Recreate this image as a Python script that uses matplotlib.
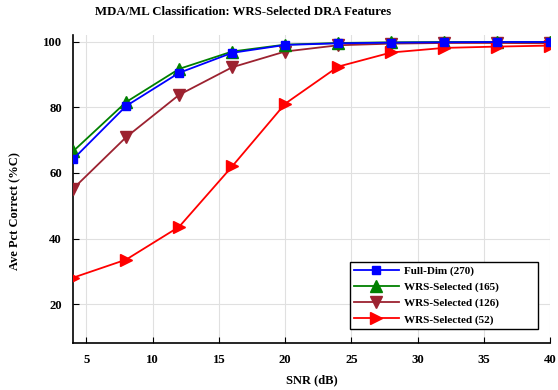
import matplotlib
matplotlib.use('Agg')
import matplotlib.pyplot as plt

snr = [4, 8, 12, 16, 20, 24, 28, 32, 36, 40]
full_dim = [64.2, 80.4, 90.5, 96.6, 99.0, 99.5, 99.7, 99.8, 99.9, 99.9]
wrs_165 = [66.6, 81.6, 91.7, 97.0, 99.1, 99.6, 99.8, 99.9, 99.9, 99.9]
wrs_126 = [55.2, 70.9, 83.8, 92.2, 97.0, 98.9, 99.4, 99.6, 99.6, 99.5]
wrs_52 = [28.1, 33.6, 43.6, 62.0, 81.1, 92.4, 96.7, 98.1, 98.5, 98.8]
labels = ['Full-Dim (270)', 'WRS-Selected (165)', 'WRS-Selected (126)', 'WRS-Selected (52)']

plt.rcParams['font.family'] = 'Liberation Serif'
plt.rcParams['font.weight'] = 'bold'

fig = plt.figure(figsize=(5.58, 3.90), dpi=100)
ax = fig.add_axes([0.131, 0.1205, 0.855, 0.7895])

ax.plot(snr, full_dim, color='#0000ff', marker='s', markersize=6, lw=1.3, label=labels[0], zorder=5)
ax.plot(snr, wrs_165, color='#008000', marker='^', markersize=8.5, lw=1.3, label=labels[1], zorder=4)
ax.plot(snr, wrs_126, color='#9c2230', marker='v', markersize=8.5, lw=1.3, label=labels[2], zorder=3)
ax.plot(snr, wrs_52, color='#ff0000', marker='>', markersize=8.5, lw=1.3, label=labels[3], zorder=4)

ax.set_xlim(4, 40)
ax.set_ylim(8.2, 102)
ax.set_xticks([5, 10, 15, 20, 25, 30, 35, 40])
ax.set_yticks([20, 40, 60, 80, 100])
ax.grid(True, color='#e0e0e0', lw=0.8)
ax.set_axisbelow(True)
for s in ['top', 'right']:
  ax.spines[s].set_visible(False)
ax.spines['left'].set_linewidth(1.2)
ax.spines['bottom'].set_linewidth(1.2)
ax.tick_params(direction='in', length=4, labelsize=9.2, pad=8)
for t in ax.get_xticklabels() + ax.get_yticklabels():
  t.set_fontweight('bold')

ax.set_xlabel('SNR (dB)', fontsize=9, fontweight='bold', labelpad=6)
ax.set_ylabel('Ave Pct Correct (%C)', fontsize=9, fontweight='bold', labelpad=12)
ax.yaxis.set_label_coords(-0.108, 0.43)
fig.suptitle('MDA/ML Classification: WRS-Selected DRA Features', fontsize=9.2, fontweight='bold', x=0.436, y=0.985)

leg = ax.legend(loc='lower left', bbox_to_anchor=(0.58, 0.0455, 0.394, 0.247), mode='expand',
                prop={'size': 8, 'weight': 'bold'}, fancybox=False, edgecolor='black', framealpha=1,
                handlelength=4, handletextpad=0.5, labelspacing=0.55, borderpad=0.4, borderaxespad=0)
leg.get_frame().set_linewidth(1.0)

fig.savefig('out.png', dpi=100)
